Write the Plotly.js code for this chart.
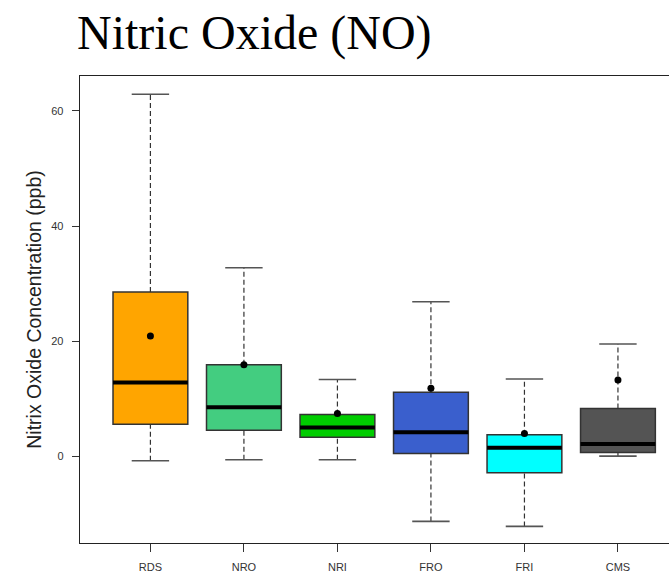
<!DOCTYPE html>
<html>
<head>
<meta charset="utf-8">
<script src="https://cdn.plot.ly/plotly-3.0.1.min.js"></script>
<style>html,body{margin:0;padding:0;background:#fff;overflow:hidden;}</style>
</head>
<body>
<div id="chart" style="width:669px;height:575px;"></div>
<script>
// ---- data ----
const categories = ['RDS', 'NRO', 'NRI', 'FRO', 'FRI', 'CMS'];
const q1Values = [5.62, 4.57, 3.36, 0.52, -2.83, 0.69];
const medianValues = [12.83, 8.56, 5.03, 4.23, 1.51, 2.15];
const q3Values = [28.56, 15.95, 7.29, 11.17, 3.76, 8.32];
const lowerWhiskers = [-0.75, -0.57, -0.57, -11.27, -12.14, 0.07];
const upperWhiskers = [62.9, 32.78, 13.36, 26.88, 13.47, 19.54];
const meanValues = [20.93, 15.95, 7.46, 11.86, 3.99, 13.3];
const yTickValues = [0, 20, 40, 60];

// ---- styles ----
const boxColors = ['#FFA500', '#43CD80', '#00CD00', '#3A5FCD', '#00FFFF', '#545454'];
const BOX_W = 0.8, STAPLE_HALF = 0.2;

const traces = [];
const pos = categories.map((c, i) => i);

// boxes
pos.forEach(i => {
  traces.push({
    type: 'box', x: [i], q1: [q1Values[i]], median: [medianValues[i]], q3: [q3Values[i]],
    lowerfence: [q1Values[i]], upperfence: [q3Values[i]],
    width: BOX_W, fillcolor: boxColors[i], line: {color: '#333333', width: 1.5},
    hoverinfo: 'skip', showlegend: false, name: categories[i]
  });
});

// whiskers (dashed)
const wx = [], wy = [];
pos.forEach(i => {
  wx.push(i, i, null, i, i, null);
  wy.push(q3Values[i], upperWhiskers[i], null, lowerWhiskers[i], q1Values[i], null);
});
traces.push({type: 'scatter', mode: 'lines', x: wx, y: wy,
  line: {color: '#333333', width: 1.2, dash: '5px,3px'}, hoverinfo: 'skip', showlegend: false});

// staples
const sx = [], sy = [];
pos.forEach(i => {
  sx.push(i - STAPLE_HALF, i + STAPLE_HALF, null, i - STAPLE_HALF, i + STAPLE_HALF, null);
  sy.push(upperWhiskers[i], upperWhiskers[i], null, lowerWhiskers[i], lowerWhiskers[i], null);
});
traces.push({type: 'scatter', mode: 'lines', x: sx, y: sy,
  line: {color: '#555555', width: 1.6}, hoverinfo: 'skip', showlegend: false});

// medians
const mx = [], my = [];
pos.forEach(i => {
  mx.push(i - BOX_W / 2, i + BOX_W / 2, null);
  my.push(medianValues[i], medianValues[i], null);
});
traces.push({type: 'scatter', mode: 'lines', x: mx, y: my,
  line: {color: '#000000', width: 4}, hoverinfo: 'skip', showlegend: false});

// means
traces.push({type: 'scatter', mode: 'markers', x: pos, y: meanValues,
  marker: {color: '#000000', size: 7}, hoverinfo: 'skip', showlegend: false});

const tickFont = {family: '"Liberation Sans Narrow", "Arial Narrow", "Liberation Sans", Arial, sans-serif', size: 11, color: '#333333'};

const layout = {
  width: 669, height: 575,
  margin: {l: 80, r: 0, t: 76, b: 32, pad: 0},
  paper_bgcolor: '#ffffff', plot_bgcolor: '#ffffff',
  boxmode: 'overlay',
  showlegend: false,
  title: {
    text: 'Nitric Oxide (NO)',
    font: {family: '"Liberation Serif", "Times New Roman", serif', size: 48, color: '#000000'},
    xref: 'container', x: 77 / 669, xanchor: 'left',
    yref: 'container', y: 1 - 15 / 575, yanchor: 'top'
  },
  xaxis: {
    range: [-0.753, 5.546],
    tickmode: 'array', tickvals: pos, ticktext: categories,
    showgrid: false, zeroline: false,
    showline: true, linecolor: '#222222', linewidth: 1.3, mirror: true,
    ticks: 'outside', ticklen: 8, tickwidth: 1, tickcolor: '#333333',
    tickfont: tickFont, ticklabelstandoff: 5
  },
  yaxis: {
    range: [-15.02, 66.07],
    tickmode: 'array', tickvals: yTickValues, ticktext: yTickValues.map(String),
    showgrid: false, zeroline: false,
    showline: true, linecolor: '#222222', linewidth: 1.3, mirror: false,
    ticks: 'outside', ticklen: 7, tickwidth: 1, tickcolor: '#333333',
    tickfont: tickFont, ticklabelstandoff: 6,
    title: {text: 'Nitrix Oxide Concentration (ppb)',
      font: {family: '"Liberation Sans", Arial, sans-serif', size: 19.5, color: '#222222'},
      standoff: 4}
  }
};

Plotly.newPlot('chart', traces, layout, {displayModeBar: false, staticPlot: true});
</script>
</body>
</html>
